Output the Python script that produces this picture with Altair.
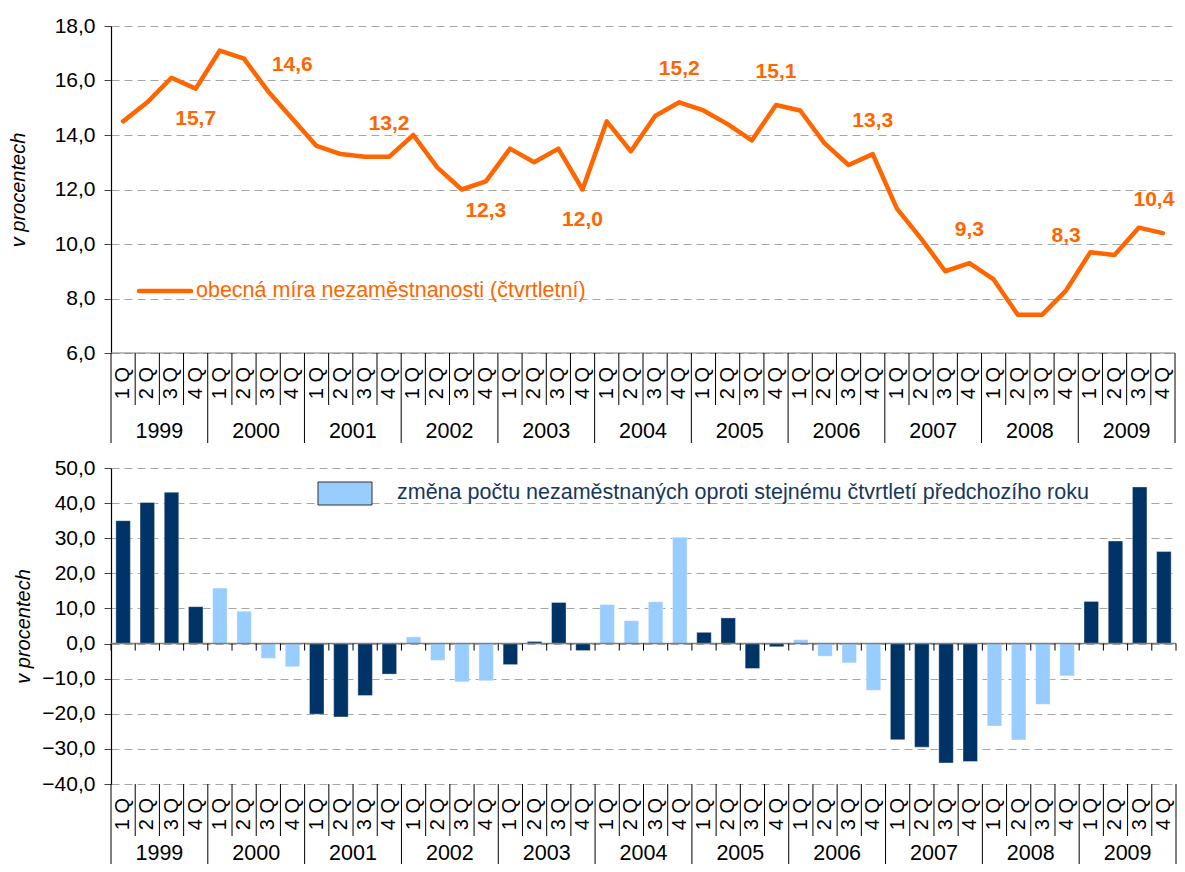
import altair as alt
import pandas as pd

# ---------------- data ----------------
years = [1999, 2000, 2001, 2002, 2003, 2004, 2005, 2006, 2007, 2008, 2009]
quarters = ["1 Q", "2 Q", "3 Q", "4 Q"]

rate = [14.5, 15.2, 16.1, 15.7,
        17.1, 16.8, 15.6, 14.6,
        13.6, 13.3, 13.2, 13.2,
        14.0, 12.8, 12.0, 12.3,
        13.5, 13.0, 13.5, 12.0,
        14.5, 13.4, 14.7, 15.2,
        14.9, 14.4, 13.8, 15.1,
        14.9, 13.7, 12.9, 13.3,
        11.3, 10.2, 9.0, 9.3,
        8.7, 7.4, 7.4, 8.3,
        9.7, 9.6, 10.6, 10.4]

change = [35.0, 40.2, 43.1, 10.5,
          15.8, 9.2, -4.2, -6.6,
          -20.1, -20.9, -14.8, -8.7,
          1.9, -4.8, -10.9, -10.6,
          -6.0, 0.6, 11.7, -2.0,
          11.1, 6.5, 11.9, 30.3,
          3.2, 7.3, -7.1, -0.9,
          1.1, -3.6, -5.5, -13.3,
          -27.4, -29.5, -34.0, -33.6,
          -23.5, -27.5, -17.3, -9.2,
          12.0, 29.2, 44.6, 26.2]

top_ticks = [6, 8, 10, 12, 14, 16, 18]
bottom_ticks = [-40, -30, -20, -10, 0, 10, 20, 30, 40, 50]

line_legend = "obecná míra nezaměstnanosti (čtvrtletní)"
bar_legend = "změna počtu nezaměstnaných oproti stejnému čtvrtletí předchozího roku"
y_title = "v procentech"

# ---------------- tables ----------------
df = pd.DataFrame({
    "idx": list(range(len(rate))),
    "year": [y for y in years for _ in quarters],
    "q": [q for _ in years for q in quarters],
    "rate": rate,
    "change": change,
})
bounds = pd.DataFrame({"b": list(range(len(rate) + 1))})
yr = pd.DataFrame({"year": years, "yi": list(range(len(years)))})
axis_line = pd.DataFrame({"start": [0], "end": [len(rate)]})

FONT = "Liberation Sans"
W_TOP = 1064
W_BOT = 1065
H_TOP = 327
H_BOT = 316
ORANGE = "#FF6600"
DARK = "#003366"
LIGHT = "#99CCFF"

x_scale = alt.Scale(domain=[0, len(rate)], nice=False, zero=False)
label_expr = "replace(format(datum.value, '.1f'), '.', ',')"

top_scale = alt.Scale(domain=[top_ticks[0], top_ticks[-1]], nice=False, zero=False)
top_axis = alt.Axis(values=top_ticks, labelExpr=label_expr, labelOverlap=False,
                    title=y_title, titlePadding=26)
bot_scale = alt.Scale(domain=[bottom_ticks[0], bottom_ticks[-1]], nice=False, zero=False)
bot_axis = alt.Axis(values=bottom_ticks, labelExpr=label_expr, labelOverlap=False,
                    title=y_title, titlePadding=8)


def category_axis(H, year_sep, year_lab):
    """Two-level category axis (quarters / years) drawn under the plot."""
    qsep = alt.Chart(bounds).transform_filter("datum.b % 4 != 0").mark_rule(
        color="black", strokeWidth=1
    ).encode(x=alt.X("b:Q", scale=x_scale, axis=None),
             y=alt.value(H), y2=alt.value(H + 52))
    ysep = alt.Chart(bounds).transform_filter("datum.b % 4 == 0").mark_rule(
        color="black", strokeWidth=1
    ).encode(x=alt.X("b:Q", scale=x_scale, axis=None),
             y=alt.value(H), y2=alt.value(H + year_sep))
    qlab = alt.Chart(df).transform_calculate(c="datum.idx + 0.5").mark_text(
        angle=270, fontSize=20, font=FONT, color="black", baseline="middle", align="center"
    ).encode(x=alt.X("c:Q", scale=x_scale, axis=None),
             y=alt.value(H + 30), text="q:N")
    ylab = alt.Chart(yr).transform_calculate(c="datum.yi * 4 + 2").mark_text(
        fontSize=21.5, font=FONT, color="black", baseline="middle", align="center"
    ).encode(x=alt.X("c:Q", scale=x_scale, axis=None),
             y=alt.value(H + year_lab), text="year:N")
    return [qsep, ysep, qlab, ylab]


# ---------------- top panel ----------------
top_line = alt.Chart(df).transform_calculate(c="datum.idx + 0.5").mark_line(
    color=ORANGE, strokeWidth=4.5, strokeJoin="round", strokeCap="round"
).encode(x=alt.X("c:Q", scale=x_scale, axis=None),
         y=alt.Y("rate:Q", scale=top_scale, axis=top_axis))

top_xline = alt.Chart(axis_line).transform_calculate(v=str(top_ticks[0])).mark_rule(
    color="#7F7F7F", strokeWidth=1.2
).encode(x=alt.X("start:Q", scale=x_scale, axis=None), x2="end:Q",
         y=alt.Y("v:Q", scale=top_scale, axis=top_axis))


def year_labels(filter_expr, dy, dx=0):
    return alt.Chart(df).transform_filter("datum.q == '4 Q'").transform_filter(
        filter_expr
    ).transform_calculate(
        c="datum.idx + 0.5",
        lab="replace(format(datum.rate, '.1f'), '.', ',')",
    ).mark_text(
        fontSize=21, fontWeight="bold", font=FONT, color=ORANGE, dy=dy, dx=dx,
        baseline="middle"
    ).encode(x=alt.X("c:Q", scale=x_scale, axis=None),
             y=alt.Y("rate:Q", scale=top_scale, axis=top_axis),
             text="lab:N")


below_years = "indexof([1999, 2002, 2003], datum.year) >= 0"
high_years = "indexof([2000, 2008], datum.year) >= 0"
last_year = f"datum.year == {years[-1]}"
lab_below = year_labels(below_years, 30)
lab_high = year_labels(high_years, -54)
lab_above = year_labels(f"!({below_years}) && !({high_years}) && !({last_year})", -33)
lab_last = year_labels(last_year, -33, -9)

leg_top = pd.DataFrame({"name": [line_legend]})
top_leg_line = alt.Chart(leg_top).mark_rule(color=ORANGE, strokeWidth=4.5, strokeCap="round").encode(
    x=alt.value(28), x2=alt.value(80), y=alt.value(265))
top_leg_text = alt.Chart(leg_top).mark_text(
    color=ORANGE, fontSize=21.5, font=FONT, align="left", baseline="middle"
).encode(x=alt.value(85), y=alt.value(265), text="name:N")

top = alt.layer(
    top_xline, top_line, lab_below, lab_high, lab_above, lab_last,
    top_leg_line, top_leg_text, *category_axis(H_TOP, 90, 79)
).properties(width=W_TOP, height=H_TOP)

# ---------------- bottom panel ----------------
bars = alt.Chart(df).transform_calculate(
    x0="datum.idx + 0.2", x1="datum.idx + 0.8",
    shade="(datum.year - 1999) % 2 == 0 ? 'dark' : 'light'", zero="0",
).mark_bar(stroke="white", strokeWidth=0.6, strokeOpacity=0.6).encode(
    x=alt.X("x0:Q", scale=x_scale, axis=None), x2="x1:Q",
    y=alt.Y("change:Q", scale=bot_scale, axis=bot_axis), y2="zero:Q",
    color=alt.Color("shade:N", scale=alt.Scale(domain=["dark", "light"], range=[DARK, LIGHT]),
                    legend=None),
)

zero_line = alt.Chart(axis_line).transform_calculate(v="0").mark_rule(
    color="#7F7F7F", strokeWidth=1.5
).encode(x=alt.X("start:Q", scale=x_scale, axis=None), x2="end:Q",
         y=alt.Y("v:Q", scale=bot_scale, axis=bot_axis))

zero_ticks = alt.Chart(bounds).transform_calculate(v="0").mark_rule(
    color="black", strokeWidth=1, y2Offset=7
).encode(x=alt.X("b:Q", scale=x_scale, axis=None),
         y=alt.Y("v:Q", scale=bot_scale, axis=bot_axis), y2="v:Q")

leg_bot = pd.DataFrame({"name": [bar_legend]})
bot_leg_box = alt.Chart(leg_bot).mark_rect(fill=LIGHT, stroke="#333333", strokeWidth=1).encode(
    x=alt.value(207), x2=alt.value(261), y=alt.value(14), y2=alt.value(37))
bot_leg_text = alt.Chart(leg_bot).mark_text(
    color="#17375E", fontSize=21.5, font=FONT, align="left", baseline="middle"
).encode(x=alt.value(286), y=alt.value(25), text="name:N")

bottom = alt.layer(
    bars, zero_line, zero_ticks, bot_leg_box, bot_leg_text, *category_axis(H_BOT, 80, 70)
).properties(width=W_BOT, height=H_BOT)

chart = alt.vconcat(top, bottom, spacing=13).properties(
    padding={"left": 0, "top": 7, "right": 0, "bottom": 0},
    background="white",
).configure_view(stroke=None).configure_axis(
    labelFont=FONT, titleFont=FONT, labelFontSize=21, labelColor="black",
    titleFontSize=20, titleFontStyle="italic", titleFontWeight="normal", titleColor="black",
    domainColor="black", domainWidth=1.2, tickColor="#444444", tickSize=7, labelPadding=9,
    gridColor="#A6A6A6", gridDash=[8, 5], gridWidth=1,
).configure_text(font=FONT)

chart.save("out.html", embed_options={"renderer": "svg", "actions": False})
